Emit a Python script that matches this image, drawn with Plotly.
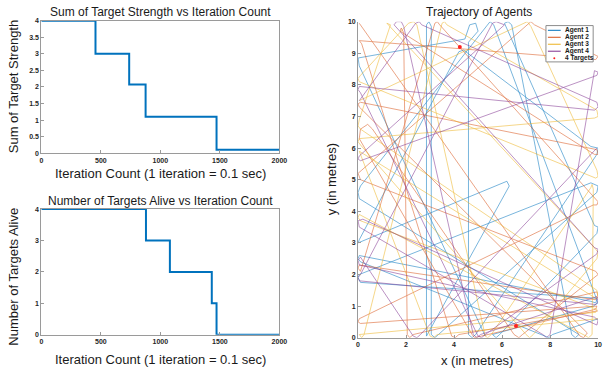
import plotly.graph_objects as go

# ---------------- data ----------------
iter_strength = [0, 455, 738, 876, 1472, 2000]
sum_strength = [4.0, 3.0, 2.07, 1.1, 0.1, 0.1]

iter_alive = [0, 879, 1080, 1432, 1472, 2000]
targets_alive = [4, 3, 2, 1, 0, 0]

strength_ticks = [0, 0.5, 1, 1.5, 2, 2.5, 3, 3.5, 4]
alive_ticks = [0, 1, 2, 3, 4]
iter_ticks = [0, 500, 1000, 1500, 2000]

agent1_x = [5.3, 0.05, 0.0, 4.45, 4.65, 4.9, 5.0, 4.6, 4.6, 4.75, 4.9, 9.95, 10.0, 9.7, 4.4, 4.2, 0.05, 0.0, 6.2, 6.3,
            2.85, 2.85, 2.95, 3.05, 3.05, 3.2, 3.35, 9.95, 10.0, 9.7, 0.05, 0.0, 0.1, 9.9, 10.0, 9.8, 5.6, 5.75, 5.9,
            9.95, 10.0, 9.85, 6.1, 6.25, 6.4, 8.9, 9.05, 9.2, 0.05, 0.0, 0.1, 5.5, 5.65, 9.95, 9.9, 9.7, 0.05, 0.0,
            0.1, 7.8, 7.95, 8.1, 10.0]
agent1_y = [0.05, 8.6, 8.85, 9.45, 9.9, 9.95, 9.7, 9.35, 0.1, 0.0, 0.1, 5.8, 6.0, 6.05, 9.1, 9.05, 3.1, 3.0, 4.95, 4.8,
            0.05, 9.9, 10.0, 9.85, 0.1, 0.0, 0.1, 4.6, 4.8, 4.9, 2.0, 1.9, 1.75, 1.25, 1.1, 1.0, 0.1, 0.0, 0.1,
            3.3, 3.5, 3.55, 9.95, 10.0, 9.9, 0.1, 0.0, 0.1, 4.4, 4.6, 4.8, 10.0, 9.9, 1.2, 1.1, 1.15, 2.6, 2.5,
            2.4, 0.05, 0.0, 0.1, 0.6]

agent2_x = [0.05, 9.25, 9.4, 9.55, 0.05, 0.0, 0.1, 9.95, 10.0, 9.85, 1.75, 1.8, 1.9, 2.05, 2.15, 2.3, 9.95, 10.0, 9.9,
            0.05, 0.0, 0.1, 3.2, 3.3, 3.4, 10.0, 9.95, 9.8, 0.05, 0.0, 0.1, 9.95, 9.9, 5.0, 4.85, 4.75, 0.05, 0.1,
            0.4, 0.6, 6.5, 6.7, 6.85, 10.0, 9.9, 0.1, 0.0, 0.15, 7.2, 7.35, 10.0, 9.9, 0.05, 0.15, 3.9, 4.05, 4.2,
            10.0]
agent2_y = [9.95, 0.05, 0.0, 0.15, 7.3, 7.4, 7.45, 5.95, 5.8, 5.8, 9.7, 9.8, 9.65, 0.1, 0.0, 0.1, 1.45, 1.3, 1.2,
            2.3, 2.2, 2.1, 9.95, 10.0, 9.9, 4.3, 4.2, 4.2, 0.6, 0.5, 0.45, 1.0, 0.9, 0.05, 0.0, 0.1, 6.3, 6.6,
            6.75, 6.6, 0.1, 0.0, 0.1, 2.0, 2.1, 5.0, 5.2, 5.3, 10.0, 9.9, 8.9, 8.8, 9.4, 9.3, 0.05, 0.0, 0.1,
            0.85]

agent3_x = [0.05, 6.9, 7.05, 7.2, 9.95, 10.0, 9.9, 0.05, 0.0, 0.1, 2.1, 2.3, 2.45, 5.3, 5.4, 5.55, 9.7, 9.75, 9.8,
            9.75, 9.6, 9.5, 0.05, 0.0, 0.1, 9.95, 9.9, 0.05, 0.15, 0.25, 3.5, 3.6, 3.7, 9.95, 10.0, 9.85, 0.05,
            0.0, 0.1, 7.0, 7.15, 7.3, 9.95, 10.0, 9.9, 1.2, 1.35, 0.05, 0.0, 0.1, 9.95, 10.0, 9.9, 0.05, 0.1, 3.0,
            3.15, 3.3, 10.0]
agent3_y = [7.5, 9.95, 10.0, 9.85, 5.3, 5.1, 5.05, 8.1, 8.2, 8.3, 9.95, 10.0, 9.9, 0.05, 0.0, 0.1, 4.75, 4.85, 4.7,
            0.1, 0.0, 0.05, 3.9, 3.8, 3.7, 0.9, 0.8, 0.1, 0.0, 0.1, 9.95, 10.0, 9.9, 7.2, 7.0, 6.95, 6.3,
            6.2, 6.1, 0.1, 0.0, 0.1, 2.5, 2.7, 2.8, 9.95, 9.9, 6.9, 6.7, 6.6, 1.5, 1.35, 1.25, 5.9, 5.8, 0.05,
            0.0, 0.1, 0.6]

agent4_x = [0.05, 2.4, 2.55, 2.65, 9.95, 10.0, 9.85, 0.05, 0.0, 0.1, 5.0, 5.15, 5.3, 9.95, 10.0, 9.85, 1.5, 1.6,
            1.8, 1.9, 4.8, 4.95, 5.1, 9.95, 10.0, 9.9, 0.05, 0.0, 0.1, 5.6, 5.75, 5.9, 6.1, 0.05, 0.0, 0.1, 9.95,
            10.0, 9.85, 8.0, 7.85, 7.7, 0.05, 0.0, 0.2, 9.95, 10.0, 9.85, 0.05, 0.0, 0.1, 2.3, 2.45, 2.6, 9.95]
agent4_y = [7.5, 9.95, 10.0, 9.9, 7.45, 7.3, 7.2, 7.95, 7.85, 7.75, 0.05, 0.0, 0.1, 2.65, 2.8, 2.85, 9.9, 10.0,
            10.0, 9.85, 0.1, 0.0, 0.1, 1.3, 1.15, 1.05, 1.8, 1.9, 2.0, 9.95, 10.0, 9.95, 9.9, 5.75, 5.65, 5.6, 8.3,
            8.4, 8.45, 0.1, 0.0, 0.1, 3.5, 3.7, 3.75, 0.4, 0.55, 0.65, 2.3, 2.45, 2.55, 0.05, 0.0, 0.1, 6.0]

target_x = [4.24, 6.58]
target_y = [9.2, 0.37]

agent_names = ["Agent 1", "Agent 2", "Agent 3", "Agent 4"]
agent_colors = ["#0072BD", "#D95319", "#EDB120", "#7E2F8E"]
xy_ticks = [0, 2, 4, 6, 8, 10]
y_ticks = [0, 1, 2, 3, 4, 5, 6, 7, 8, 9, 10]

# ---------------- figure ----------------
W, H = 611, 377
fig = go.Figure()

fig.add_trace(go.Scatter(x=iter_strength, y=sum_strength, mode="lines", line=dict(color="#0072BD", width=2, shape="hv"),
                         xaxis="x", yaxis="y", showlegend=False))
fig.add_trace(go.Scatter(x=iter_alive, y=targets_alive, mode="lines", line=dict(color="#0072BD", width=2, shape="hv"),
                         xaxis="x2", yaxis="y2", showlegend=False))

agents = [(agent1_x, agent1_y), (agent2_x, agent2_y), (agent3_x, agent3_y), (agent4_x, agent4_y)]
for (ax, ay), name, col in zip(agents, agent_names, agent_colors):
    fig.add_trace(go.Scatter(x=ax, y=ay, mode="lines", name=name, line=dict(color=col, width=0.7),
                             opacity=0.75, xaxis="x3", yaxis="y3", showlegend=False))
fig.add_trace(go.Scatter(x=target_x, y=target_y, mode="markers", name="4 Targets",
                         marker=dict(color="#FF2020", size=4), xaxis="x3", yaxis="y3", showlegend=False))


def px(x):
    return x / W


def py(y):
    return 1 - y / H


tickfont = dict(family="Liberation Sans, Arial", size=7, color="#262626", weight="bold")
boxax = dict(showline=True, linecolor="#9a9a9a", linewidth=1, mirror=True, ticks="inside", ticklen=3,
             tickcolor="#9a9a9a", showgrid=False, zeroline=False, tickfont=tickfont)

fig.update_layout(
    width=W, height=H, margin=dict(l=0, r=0, t=0, b=0), paper_bgcolor="white", plot_bgcolor="white",
    xaxis=dict(domain=[px(40), px(282)], range=[0, 2000], tickvals=iter_ticks, anchor="y", **boxax),
    yaxis=dict(domain=[py(152), py(17)], range=[0, 4], tickvals=strength_ticks, anchor="x", **boxax),
    xaxis2=dict(domain=[px(40), px(282)], range=[0, 2000], tickvals=iter_ticks, anchor="y2", **boxax),
    yaxis2=dict(domain=[py(337), py(209)], range=[0, 4], tickvals=alive_ticks, anchor="x2", **boxax),
    xaxis3=dict(domain=[px(362), px(606)], range=[0, 10], tickvals=xy_ticks, anchor="y3", showline=True,
                linecolor="#9a9a9a", linewidth=1, ticks="inside", ticklen=3, tickcolor="#9a9a9a",
                showgrid=False, zeroline=False, tickfont=tickfont),
    yaxis3=dict(domain=[py(340), py(18)], range=[0, 10], tickvals=y_ticks, anchor="x3", showline=True,
                linecolor="#9a9a9a", linewidth=1, ticks="inside", ticklen=3, tickcolor="#9a9a9a",
                showgrid=False, zeroline=False, tickfont=tickfont),
)

tfont = dict(family="Liberation Sans, Arial", size=12, color="#1a1a1a")
lfont = dict(family="Liberation Sans, Arial", size=13, color="#1a1a1a")
ann = [
    ("Sum of Target Strength vs Iteration Count", 161, 8, 0, tfont),
    ("Iteration Count (1 iteration = 0.1 sec)", 161, 173, 0, lfont),
    ("Sum of Target Strength", 12, 84, -90, lfont),
    ("Number of Targets Alive vs Iteration Count", 161, 201, 0, tfont),
    ("Iteration Count (1 iteration = 0.1 sec)", 161, 362, 0, lfont),
    ("Number of Targets Alive", 12, 278, -90, lfont),
    ("Trajectory of Agents", 485, 8, 0, tfont),
    ("x (in metres)", 483, 363, 0, lfont),
    ("y (in metres)", 335, 179, -90, lfont),
]
for text, x, y, ang, f in ann:
    fig.add_annotation(text=text, x=px(x), y=py(y), xref="paper", yref="paper", showarrow=False,
                       xanchor="center", yanchor="middle", textangle=ang, font=f)

# custom compact legend (MATLAB style)
lx0, ly0, lx1, ly1 = 553, 22, 601, 59
fig.add_shape(type="rect", xref="paper", yref="paper", x0=px(lx0), x1=px(lx1), y0=py(ly1), y1=py(ly0),
              line=dict(color="#8c8c8c", width=1), fillcolor="white", layer="above")
legend_rows = agent_names + ["4 Targets"]
for i, name in enumerate(legend_rows):
    yy = 26.8 + i * 7.1
    if i < 4:
        fig.add_shape(type="line", xref="paper", yref="paper", x0=px(555), x1=px(568), y0=py(yy), y1=py(yy),
                      line=dict(color=agent_colors[i], width=1), layer="above")
    else:
        fig.add_shape(type="circle", xref="paper", yref="paper", x0=px(560.5), x1=px(562.5), y0=py(yy + 1),
                      y1=py(yy - 1), line=dict(color="#FF2020", width=0), fillcolor="#FF2020", layer="above")
    fig.add_annotation(text=name, x=px(570), y=py(yy), xref="paper", yref="paper", showarrow=False,
                       xanchor="left", yanchor="middle",
                       font=dict(family="Liberation Sans, Arial", size=6.5, color="#1a1a1a", weight="bold"))

fig.write_html("out.html")
